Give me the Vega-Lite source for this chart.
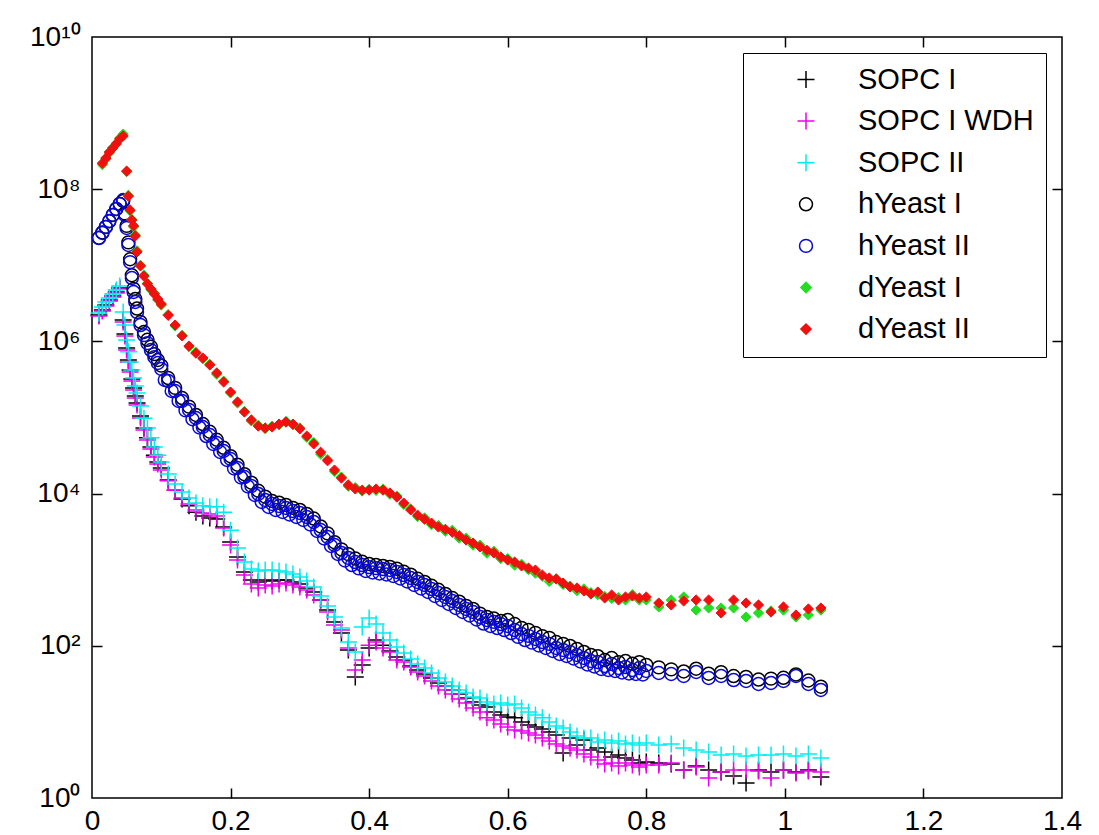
{
"$schema": "https://vega.github.io/schema/vega-lite/v6.json",
"width": 970, "height": 761,
"autosize": {"type": "none"},
"padding": {"left": 92, "top": 37, "right": 37, "bottom": 37},
"background": "#ffffff",
"config": {"view": {"stroke": "#000", "strokeWidth": 1.5}, "font": "Liberation Sans"},
"datasets": {
"sopc1": [{"x":0.01,"y":2.22e6},{"x":0.015,"y":2.59e6},{"x":0.02,"y":3.01e6},{"x":0.025,"y":3.5e6},{"x":0.03,"y":3.95e6},{"x":0.035,"y":4.46e6},{"x":0.04,"y":5.04e6},{"x":0.045,"y":1.91e6},{"x":0.0475,"y":1.25e6},{"x":0.05,"y":8.2e5},{"x":0.0525,"y":5.7e5},{"x":0.055,"y":4.21e5},{"x":0.0575,"y":3.21e5},{"x":0.06,"y":2.44e5},{"x":0.0625,"y":1.92e5},{"x":0.065,"y":1.55e5},{"x":0.07,"y":1.05e5},{"x":0.075,"y":7.3e4},{"x":0.08,"y":5.4e4},{"x":0.085,"y":4.1e4},{"x":0.09,"y":3.2e4},{"x":0.095,"y":2.6e4},{"x":0.1,"y":2.17e4},{"x":0.11,"y":1.51e4},{"x":0.12,"y":1.11e4},{"x":0.13,"y":8500},{"x":0.14,"y":6900},{"x":0.15,"y":5700},{"x":0.16,"y":5080},{"x":0.17,"y":4780},{"x":0.18,"y":4630},{"x":0.19,"y":3640},{"x":0.2,"y":2310},{"x":0.21,"y":1470},{"x":0.22,"y":933},{"x":0.23,"y":733},{"x":0.24,"y":689},{"x":0.25,"y":733},{"x":0.26,"y":711},{"x":0.27,"y":733},{"x":0.28,"y":733},{"x":0.29,"y":689},{"x":0.3,"y":649},{"x":0.31,"y":575},{"x":0.32,"y":509},{"x":0.33,"y":400},{"x":0.34,"y":295},{"x":0.35,"y":206},{"x":0.36,"y":147},{"x":0.37,"y":88.1},{"x":0.38,"y":38.9},{"x":0.39,"y":56},{"x":0.4,"y":93.5},{"x":0.41,"y":119},{"x":0.42,"y":102},{"x":0.43,"y":85.5},{"x":0.44,"y":71.3},{"x":0.45,"y":65},{"x":0.46,"y":54.3},{"x":0.47,"y":48.1},{"x":0.48,"y":42.6},{"x":0.49,"y":37.8},{"x":0.5,"y":32.5},{"x":0.51,"y":29.6},{"x":0.52,"y":26.3},{"x":0.53,"y":23.3},{"x":0.54,"y":20.6},{"x":0.55,"y":18.3},{"x":0.56,"y":16.7},{"x":0.57,"y":15.7},{"x":0.58,"y":13.5},{"x":0.59,"y":12.3},{"x":0.6,"y":11.6},{"x":0.61,"y":11.3},{"x":0.62,"y":9.97},{"x":0.63,"y":9.1},{"x":0.64,"y":8.57},{"x":0.65,"y":8.07},{"x":0.66,"y":7.37},{"x":0.67,"y":6.73},{"x":0.68,"y":3.9},{"x":0.69,"y":6.14},{"x":0.7,"y":4.97},{"x":0.71,"y":5.78},{"x":0.72,"y":4.27},{"x":0.73,"y":4.54},{"x":0.74,"y":4.02},{"x":0.75,"y":3.46},{"x":0.76,"y":3.67},{"x":0.77,"y":3.36},{"x":0.78,"y":3.16},{"x":0.79,"y":2.88},{"x":0.8,"y":2.97},{"x":0.818,"y":2.88},{"x":0.836,"y":2.8},{"x":0.854,"y":2.33},{"x":0.872,"y":2.63},{"x":0.89,"y":2.33},{"x":0.908,"y":2.2},{"x":0.926,"y":1.95},{"x":0.944,"y":1.57},{"x":0.962,"y":2.33},{"x":0.98,"y":2.2},{"x":0.998,"y":2.33},{"x":1.016,"y":2.2},{"x":1.034,"y":2.33},{"x":1.052,"y":1.89}],
"sopc1w": [{"x":0.01,"y":2.16e6},{"x":0.015,"y":2.51e6},{"x":0.02,"y":2.92e6},{"x":0.025,"y":3.4e6},{"x":0.03,"y":3.84e6},{"x":0.035,"y":4.33e6},{"x":0.04,"y":4.89e6},{"x":0.045,"y":1.8e6},{"x":0.0475,"y":1.18e6},{"x":0.05,"y":7.7e5},{"x":0.0525,"y":5.36e5},{"x":0.055,"y":3.96e5},{"x":0.0575,"y":3.02e5},{"x":0.06,"y":2.3e5},{"x":0.0625,"y":1.8e5},{"x":0.065,"y":1.46e5},{"x":0.07,"y":9.85e4},{"x":0.075,"y":6.85e4},{"x":0.08,"y":5.06e4},{"x":0.085,"y":3.85e4},{"x":0.09,"y":3.03e4},{"x":0.095,"y":2.45e4},{"x":0.1,"y":2.04e4},{"x":0.11,"y":1.47e4},{"x":0.12,"y":1.11e4},{"x":0.13,"y":8750},{"x":0.14,"y":7300},{"x":0.15,"y":6100},{"x":0.16,"y":5560},{"x":0.17,"y":5400},{"x":0.18,"y":5080},{"x":0.19,"y":3530},{"x":0.2,"y":2110},{"x":0.21,"y":1340},{"x":0.22,"y":851},{"x":0.23,"y":649},{"x":0.24,"y":575},{"x":0.25,"y":629},{"x":0.26,"y":611},{"x":0.27,"y":649},{"x":0.28,"y":668},{"x":0.29,"y":629},{"x":0.3,"y":593},{"x":0.31,"y":541},{"x":0.32,"y":465},{"x":0.33,"y":400},{"x":0.34,"y":278},{"x":0.35,"y":188},{"x":0.36,"y":161},{"x":0.37,"y":93.5},{"x":0.38,"y":48},{"x":0.39,"y":65},{"x":0.4,"y":102},{"x":0.41,"y":112},{"x":0.42,"y":93.5},{"x":0.43,"y":83},{"x":0.44,"y":65},{"x":0.45,"y":61.2},{"x":0.46,"y":52.6},{"x":0.47,"y":45.3},{"x":0.48,"y":40.1},{"x":0.49,"y":34.5},{"x":0.5,"y":29.6},{"x":0.51,"y":26.3},{"x":0.52,"y":23.3},{"x":0.53,"y":20},{"x":0.54,"y":17.7},{"x":0.55,"y":15.2},{"x":0.56,"y":13.5},{"x":0.57,"y":11.3},{"x":0.58,"y":10.6},{"x":0.59,"y":9.38},{"x":0.6,"y":8.57},{"x":0.61,"y":7.83},{"x":0.62,"y":7.59},{"x":0.63,"y":7.15},{"x":0.64,"y":6.73},{"x":0.65,"y":6.14},{"x":0.66,"y":5.61},{"x":0.67,"y":5.13},{"x":0.68,"y":4.82},{"x":0.69,"y":4.54},{"x":0.7,"y":4.27},{"x":0.71,"y":3.79},{"x":0.72,"y":3.46},{"x":0.73,"y":3.16},{"x":0.74,"y":2.8},{"x":0.75,"y":2.88},{"x":0.76,"y":2.63},{"x":0.77,"y":2.88},{"x":0.78,"y":2.71},{"x":0.79,"y":2.55},{"x":0.8,"y":2.71},{"x":0.818,"y":2.71},{"x":0.836,"y":2.88},{"x":0.854,"y":2.33},{"x":0.872,"y":2.55},{"x":0.89,"y":1.83},{"x":0.908,"y":2.2},{"x":0.926,"y":2.33},{"x":0.944,"y":2.33},{"x":0.962,"y":2.26},{"x":0.98,"y":1.83},{"x":0.998,"y":2.33},{"x":1.016,"y":2.13},{"x":1.034,"y":2.26},{"x":1.052,"y":2.2}],
"sopc2": [{"x":0.01,"y":2.36e6},{"x":0.015,"y":2.83e6},{"x":0.02,"y":3.3e6},{"x":0.025,"y":3.72e6},{"x":0.03,"y":4.2e6},{"x":0.035,"y":4.74e6},{"x":0.04,"y":5.35e6},{"x":0.045,"y":2.44e6},{"x":0.0475,"y":1.64e6},{"x":0.05,"y":1.04e6},{"x":0.0525,"y":7.3e5},{"x":0.055,"y":5.36e5},{"x":0.0575,"y":4.2e5},{"x":0.06,"y":3.3e5},{"x":0.0625,"y":2.59e5},{"x":0.065,"y":2.1e5},{"x":0.07,"y":1.42e5},{"x":0.075,"y":9.8e4},{"x":0.08,"y":7.3e4},{"x":0.085,"y":5.4e4},{"x":0.09,"y":4.1e4},{"x":0.095,"y":3.2e4},{"x":0.1,"y":2.6e4},{"x":0.11,"y":1.81e4},{"x":0.12,"y":1.34e4},{"x":0.13,"y":1.05e4},{"x":0.14,"y":8750},{"x":0.15,"y":7500},{"x":0.16,"y":6900},{"x":0.17,"y":6700},{"x":0.18,"y":6700},{"x":0.19,"y":5700},{"x":0.2,"y":3300},{"x":0.21,"y":1930},{"x":0.22,"y":1260},{"x":0.23,"y":1020},{"x":0.24,"y":962},{"x":0.25,"y":991},{"x":0.26,"y":991},{"x":0.27,"y":962},{"x":0.28,"y":933},{"x":0.29,"y":879},{"x":0.3,"y":802},{"x":0.31,"y":711},{"x":0.32,"y":593},{"x":0.33,"y":451},{"x":0.34,"y":333},{"x":0.35,"y":239},{"x":0.36,"y":171},{"x":0.37,"y":112},{"x":0.38,"y":83},{"x":0.39,"y":177},{"x":0.4,"y":232},{"x":0.41,"y":193},{"x":0.42,"y":147},{"x":0.43,"y":119},{"x":0.44,"y":96.4},{"x":0.45,"y":80.4},{"x":0.46,"y":67.1},{"x":0.47,"y":57.7},{"x":0.48,"y":51.1},{"x":0.49,"y":43.9},{"x":0.5,"y":37.8},{"x":0.51,"y":33.4},{"x":0.52,"y":29.6},{"x":0.53,"y":26.3},{"x":0.54,"y":24},{"x":0.55,"y":21.2},{"x":0.56,"y":20.6},{"x":0.57,"y":18.3},{"x":0.58,"y":17.2},{"x":0.59,"y":17.7},{"x":0.6,"y":16.7},{"x":0.61,"y":17.2},{"x":0.62,"y":15.2},{"x":0.63,"y":13.5},{"x":0.64,"y":12.3},{"x":0.65,"y":11.3},{"x":0.66,"y":9.97},{"x":0.67,"y":8.84},{"x":0.68,"y":8.32},{"x":0.69,"y":7.37},{"x":0.7,"y":6.53},{"x":0.71,"y":6.14},{"x":0.72,"y":6.14},{"x":0.73,"y":5.44},{"x":0.74,"y":5.78},{"x":0.75,"y":5.28},{"x":0.76,"y":5.61},{"x":0.77,"y":5.13},{"x":0.78,"y":5.28},{"x":0.79,"y":4.97},{"x":0.8,"y":5.28},{"x":0.818,"y":4.97},{"x":0.836,"y":5.13},{"x":0.854,"y":4.54},{"x":0.872,"y":4.27},{"x":0.89,"y":4.02},{"x":0.908,"y":3.67},{"x":0.926,"y":3.79},{"x":0.944,"y":3.56},{"x":0.962,"y":3.67},{"x":0.98,"y":3.67},{"x":0.998,"y":3.79},{"x":1.016,"y":3.56},{"x":1.034,"y":3.79},{"x":1.052,"y":3.36}],
"hy1": [{"x":0.01,"y":2.3e7},{"x":0.015,"y":2.7e7},{"x":0.02,"y":3.2e7},{"x":0.025,"y":3.8e7},{"x":0.03,"y":4.6e7},{"x":0.035,"y":5.5e7},{"x":0.04,"y":6.4e7},{"x":0.045,"y":7.0e7},{"x":0.0475,"y":4.8e7},{"x":0.05,"y":3.3e7},{"x":0.0525,"y":2.0e7},{"x":0.055,"y":1.2e7},{"x":0.0575,"y":7.4e6},{"x":0.06,"y":4.9e6},{"x":0.0625,"y":3.6e6},{"x":0.065,"y":2.7e6},{"x":0.07,"y":1.8e6},{"x":0.075,"y":1.33e6},{"x":0.08,"y":1.05e6},{"x":0.085,"y":8.5e5},{"x":0.09,"y":6.8e5},{"x":0.095,"y":5.7e5},{"x":0.1,"y":4.8e5},{"x":0.11,"y":3.3e5},{"x":0.12,"y":2.45e5},{"x":0.13,"y":1.8e5},{"x":0.14,"y":1.39e5},{"x":0.15,"y":1.08e5},{"x":0.16,"y":8.2e4},{"x":0.17,"y":6.5e4},{"x":0.18,"y":5.1e4},{"x":0.19,"y":4.0e4},{"x":0.2,"y":3.1e4},{"x":0.21,"y":2.4e4},{"x":0.22,"y":1.8e4},{"x":0.23,"y":1.39e4},{"x":0.24,"y":1.09e4},{"x":0.25,"y":9100},{"x":0.26,"y":8000},{"x":0.27,"y":7600},{"x":0.28,"y":7100},{"x":0.29,"y":6500},{"x":0.3,"y":6100},{"x":0.31,"y":5400},{"x":0.32,"y":4700},{"x":0.33,"y":3700},{"x":0.34,"y":3000},{"x":0.35,"y":2300},{"x":0.36,"y":1850},{"x":0.37,"y":1600},{"x":0.38,"y":1400},{"x":0.39,"y":1270},{"x":0.4,"y":1190},{"x":0.41,"y":1150},{"x":0.42,"y":1120},{"x":0.43,"y":1090},{"x":0.44,"y":1030},{"x":0.45,"y":940},{"x":0.46,"y":860},{"x":0.47,"y":760},{"x":0.48,"y":690},{"x":0.49,"y":615},{"x":0.5,"y":545},{"x":0.51,"y":480},{"x":0.52,"y":425},{"x":0.53,"y":380},{"x":0.54,"y":335},{"x":0.55,"y":305},{"x":0.56,"y":265},{"x":0.57,"y":240},{"x":0.58,"y":228},{"x":0.59,"y":212},{"x":0.6,"y":218},{"x":0.61,"y":193},{"x":0.62,"y":172},{"x":0.63,"y":162},{"x":0.64,"y":148},{"x":0.65,"y":134},{"x":0.66,"y":127},{"x":0.67,"y":112},{"x":0.68,"y":106},{"x":0.69,"y":99.5},{"x":0.7,"y":91},{"x":0.71,"y":83},{"x":0.72,"y":76},{"x":0.73,"y":73},{"x":0.74,"y":65},{"x":0.75,"y":69},{"x":0.76,"y":61},{"x":0.77,"y":63},{"x":0.78,"y":58},{"x":0.79,"y":61},{"x":0.8,"y":56},{"x":0.818,"y":52},{"x":0.836,"y":49},{"x":0.854,"y":46},{"x":0.872,"y":50},{"x":0.89,"y":43},{"x":0.908,"y":45},{"x":0.926,"y":40},{"x":0.944,"y":39},{"x":0.962,"y":36},{"x":0.98,"y":37},{"x":0.998,"y":38},{"x":1.016,"y":42},{"x":1.034,"y":35},{"x":1.052,"y":29}],
"hy2": [{"x":0.01,"y":2.28e7},{"x":0.015,"y":2.66e7},{"x":0.02,"y":3.19e7},{"x":0.025,"y":3.82e7},{"x":0.03,"y":4.58e7},{"x":0.035,"y":5.49e7},{"x":0.04,"y":6.39e7},{"x":0.045,"y":7.21e7},{"x":0.0475,"y":4.58e7},{"x":0.05,"y":3.09e7},{"x":0.0525,"y":1.85e7},{"x":0.055,"y":1.1e7},{"x":0.0575,"y":6.8e6},{"x":0.06,"y":4.46e6},{"x":0.0625,"y":3.3e6},{"x":0.065,"y":2.43e6},{"x":0.07,"y":1.64e6},{"x":0.075,"y":1.21e6},{"x":0.08,"y":9.5e5},{"x":0.085,"y":7.7e5},{"x":0.09,"y":6.2e5},{"x":0.095,"y":5.2e5},{"x":0.1,"y":4.34e5},{"x":0.105,"y":3.11e5},{"x":0.11,"y":3.02e5},{"x":0.115,"y":2.23e5},{"x":0.12,"y":2.23e5},{"x":0.125,"y":1.65e5},{"x":0.13,"y":1.65e5},{"x":0.135,"y":1.24e5},{"x":0.14,"y":1.26e5},{"x":0.145,"y":9.5e4},{"x":0.15,"y":9.85e4},{"x":0.155,"y":7.4e4},{"x":0.16,"y":7.5e4},{"x":0.165,"y":5.7e4},{"x":0.17,"y":5.89e4},{"x":0.175,"y":4.49e4},{"x":0.18,"y":4.62e4},{"x":0.185,"y":3.52e4},{"x":0.19,"y":3.63e4},{"x":0.195,"y":2.77e4},{"x":0.2,"y":2.85e4},{"x":0.205,"y":2.14e4},{"x":0.21,"y":2.17e4},{"x":0.215,"y":1.63e4},{"x":0.22,"y":1.65e4},{"x":0.225,"y":1.24e4},{"x":0.23,"y":1.26e4},{"x":0.235,"y":9600},{"x":0.24,"y":9900},{"x":0.245,"y":7760},{"x":0.25,"y":8240},{"x":0.255,"y":6670},{"x":0.26,"y":7300},{"x":0.265,"y":6090},{"x":0.27,"y":6870},{"x":0.275,"y":5730},{"x":0.28,"y":6470},{"x":0.285,"y":5310},{"x":0.29,"y":5900},{"x":0.295,"y":4930},{"x":0.3,"y":5560},{"x":0.305,"y":4500},{"x":0.31,"y":4930},{"x":0.315,"y":3930},{"x":0.32,"y":4240},{"x":0.325,"y":3230},{"x":0.33,"y":3320},{"x":0.335,"y":2570},{"x":0.34,"y":2690},{"x":0.345,"y":2050},{"x":0.35,"y":2110},{"x":0.355,"y":1610},{"x":0.36,"y":1660},{"x":0.365,"y":1320},{"x":0.37,"y":1430},{"x":0.375,"y":1150},{"x":0.38,"y":1260},{"x":0.385,"y":1040},{"x":0.39,"y":1150},{"x":0.395,"y":962},{"x":0.4,"y":1080},{"x":0.405,"y":919},{"x":0.41,"y":1050},{"x":0.415,"y":891},{"x":0.42,"y":1020},{"x":0.425,"y":865},{"x":0.43,"y":991},{"x":0.435,"y":826},{"x":0.44,"y":933},{"x":0.445,"y":766},{"x":0.45,"y":851},{"x":0.455,"y":700},{"x":0.46,"y":778},{"x":0.465,"y":629},{"x":0.47,"y":689},{"x":0.475,"y":566},{"x":0.48,"y":629},{"x":0.485,"y":509},{"x":0.49,"y":557},{"x":0.495,"y":451},{"x":0.5,"y":494},{"x":0.505,"y":400},{"x":0.51,"y":438},{"x":0.515,"y":354},{"x":0.52,"y":388},{"x":0.525,"y":314},{"x":0.53,"y":344},{"x":0.535,"y":278},{"x":0.54,"y":305},{"x":0.545,"y":250},{"x":0.55,"y":278},{"x":0.555,"y":222},{"x":0.56,"y":239},{"x":0.565,"y":196},{"x":0.57,"y":218},{"x":0.575,"y":182},{"x":0.58,"y":206},{"x":0.585,"y":171},{"x":0.59,"y":193},{"x":0.595,"y":161},{"x":0.6,"y":182},{"x":0.605,"y":147},{"x":0.61,"y":161},{"x":0.615,"y":131},{"x":0.62,"y":143},{"x":0.625,"y":119},{"x":0.63,"y":135},{"x":0.635,"y":110},{"x":0.64,"y":123},{"x":0.645,"y":101},{"x":0.65,"y":112},{"x":0.655,"y":93.5},{"x":0.66,"y":106},{"x":0.665,"y":85.5},{"x":0.67,"y":93.5},{"x":0.675,"y":78},{"x":0.68,"y":88.1},{"x":0.685,"y":73.5},{"x":0.69,"y":82.9},{"x":0.695,"y":68.1},{"x":0.7,"y":75.7},{"x":0.705,"y":62.2},{"x":0.71,"y":69.2},{"x":0.715,"y":56.8},{"x":0.72,"y":63.1},{"x":0.725,"y":53.5},{"x":0.73,"y":61.2},{"x":0.735,"y":49.6},{"x":0.74,"y":54.3},{"x":0.745,"y":48.1},{"x":0.75,"y":57.7},{"x":0.755,"y":46.7},{"x":0.76,"y":51.1},{"x":0.765,"y":44.6},{"x":0.77,"y":52.6},{"x":0.775,"y":43.3},{"x":0.78,"y":48.1},{"x":0.785,"y":42.6},{"x":0.79,"y":51.1},{"x":0.795,"y":42},{"x":0.8,"y":46.7},{"x":0.818,"y":43.9},{"x":0.836,"y":42.6},{"x":0.854,"y":40.1},{"x":0.872,"y":45.3},{"x":0.89,"y":37.8},{"x":0.908,"y":40.1},{"x":0.926,"y":35.5},{"x":0.944,"y":34.5},{"x":0.962,"y":31.5},{"x":0.98,"y":32.5},{"x":0.998,"y":34.5},{"x":1.016,"y":40.1},{"x":1.034,"y":31.5},{"x":1.052,"y":26.3}],
"dy1": [{"x":0.015,"y":2.1e8},{"x":0.02,"y":2.5e8},{"x":0.025,"y":3.0e8},{"x":0.03,"y":3.5e8},{"x":0.035,"y":4.0e8},{"x":0.04,"y":4.7e8},{"x":0.045,"y":5.3e8},{"x":0.05,"y":1.7e8},{"x":0.0525,"y":8.3e7},{"x":0.055,"y":5.2e7},{"x":0.0575,"y":4.0e7},{"x":0.06,"y":3.2e7},{"x":0.0625,"y":2.5e7},{"x":0.065,"y":1.55e7},{"x":0.07,"y":1.0e7},{"x":0.075,"y":7.4e6},{"x":0.08,"y":5.8e6},{"x":0.085,"y":4.8e6},{"x":0.09,"y":4.3e6},{"x":0.095,"y":3.5e6},{"x":0.1,"y":3.0e6},{"x":0.11,"y":2.25e6},{"x":0.12,"y":1.6e6},{"x":0.13,"y":1.2e6},{"x":0.14,"y":8.5e5},{"x":0.15,"y":7.2e5},{"x":0.16,"y":5.9e5},{"x":0.17,"y":5.0e5},{"x":0.18,"y":3.7e5},{"x":0.19,"y":3.0e5},{"x":0.2,"y":2.1e5},{"x":0.21,"y":1.55e5},{"x":0.22,"y":1.2e5},{"x":0.23,"y":9.0e4},{"x":0.24,"y":7.9e4},{"x":0.25,"y":7.1e4},{"x":0.26,"y":7.7e4},{"x":0.27,"y":8.0e4},{"x":0.28,"y":8.9e4},{"x":0.29,"y":8.0e4},{"x":0.3,"y":7.3e4},{"x":0.31,"y":5.5e4},{"x":0.32,"y":4.7e4},{"x":0.33,"y":3.3e4},{"x":0.34,"y":2.8e4},{"x":0.35,"y":1.95e4},{"x":0.36,"y":1.65e4},{"x":0.37,"y":1.25e4},{"x":0.38,"y":1.2e4},{"x":0.39,"y":1.08e4},{"x":0.4,"y":1.14e4},{"x":0.41,"y":1.1e4},{"x":0.42,"y":1.15e4},{"x":0.43,"y":9800},{"x":0.44,"y":9300},{"x":0.45,"y":7200},{"x":0.46,"y":6300},{"x":0.47,"y":5000},{"x":0.48,"y":4800},{"x":0.49,"y":3900},{"x":0.5,"y":3800},{"x":0.51,"y":3200},{"x":0.52,"y":3300},{"x":0.53,"y":2600},{"x":0.54,"y":2600},{"x":0.55,"y":2100},{"x":0.56,"y":2100},{"x":0.57,"y":1650},{"x":0.58,"y":1750},{"x":0.59,"y":1400},{"x":0.6,"y":1400},{"x":0.61,"y":1150},{"x":0.62,"y":1180},{"x":0.63,"y":1000},{"x":0.64,"y":900},{"x":0.65,"y":820},{"x":0.66,"y":700},{"x":0.67,"y":760},{"x":0.68,"y":640},{"x":0.69,"y":610},{"x":0.7,"y":530},{"x":0.71,"y":560},{"x":0.72,"y":500},{"x":0.73,"y":470},{"x":0.74,"y":445},{"x":0.75,"y":420},{"x":0.76,"y":430},{"x":0.77,"y":400},{"x":0.78,"y":470},{"x":0.79,"y":400},{"x":0.8,"y":400},{"x":0.818,"y":324},{"x":0.836,"y":400},{"x":0.854,"y":438},{"x":0.872,"y":295},{"x":0.89,"y":314},{"x":0.908,"y":314},{"x":0.926,"y":314},{"x":0.944,"y":239},{"x":0.962,"y":270},{"x":0.98,"y":287},{"x":0.998,"y":295},{"x":1.016,"y":239},{"x":1.034,"y":254},{"x":1.052,"y":295}],
"dy2": [{"x":0.015,"y":2.2e8},{"x":0.02,"y":2.57e8},{"x":0.025,"y":3.08e8},{"x":0.03,"y":3.48e8},{"x":0.035,"y":3.93e8},{"x":0.04,"y":4.57e8},{"x":0.045,"y":5.0e8},{"x":0.05,"y":1.73e8},{"x":0.0525,"y":8.1e7},{"x":0.055,"y":5.33e7},{"x":0.0575,"y":3.94e7},{"x":0.06,"y":3.3e7},{"x":0.0625,"y":2.43e7},{"x":0.065,"y":1.5e7},{"x":0.07,"y":9.8e6},{"x":0.075,"y":7.2e6},{"x":0.08,"y":5.7e6},{"x":0.085,"y":4.9e6},{"x":0.09,"y":4.2e6},{"x":0.095,"y":3.6e6},{"x":0.1,"y":3.1e6},{"x":0.11,"y":2.2e6},{"x":0.12,"y":1.64e6},{"x":0.13,"y":1.18e6},{"x":0.14,"y":8.7e5},{"x":0.15,"y":7.0e5},{"x":0.16,"y":6.05e5},{"x":0.17,"y":4.9e5},{"x":0.18,"y":3.85e5},{"x":0.19,"y":2.93e5},{"x":0.2,"y":2.16e5},{"x":0.21,"y":1.6e5},{"x":0.22,"y":1.18e5},{"x":0.23,"y":9.3e4},{"x":0.24,"y":7.7e4},{"x":0.25,"y":7.3e4},{"x":0.26,"y":7.5e4},{"x":0.27,"y":8.2e4},{"x":0.28,"y":8.7e4},{"x":0.29,"y":8.2e4},{"x":0.3,"y":7.1e4},{"x":0.31,"y":5.7e4},{"x":0.32,"y":4.5e4},{"x":0.33,"y":3.5e4},{"x":0.34,"y":2.7e4},{"x":0.35,"y":2.04e4},{"x":0.36,"y":1.6e4},{"x":0.37,"y":1.3e4},{"x":0.38,"y":1.15e4},{"x":0.39,"y":1.11e4},{"x":0.4,"y":1.11e4},{"x":0.41,"y":1.15e4},{"x":0.42,"y":1.11e4},{"x":0.43,"y":1.02e4},{"x":0.44,"y":9000},{"x":0.45,"y":7500},{"x":0.46,"y":6100},{"x":0.47,"y":5200},{"x":0.48,"y":4600},{"x":0.49,"y":4100},{"x":0.5,"y":3640},{"x":0.51,"y":3400},{"x":0.52,"y":3100},{"x":0.53,"y":2800},{"x":0.54,"y":2450},{"x":0.55,"y":2240},{"x":0.56,"y":1990},{"x":0.57,"y":1800},{"x":0.58,"y":1660},{"x":0.59,"y":1470},{"x":0.6,"y":1340},{"x":0.61,"y":1260},{"x":0.62,"y":1120},{"x":0.63,"y":1050},{"x":0.64,"y":990},{"x":0.65,"y":852},{"x":0.66,"y":778},{"x":0.67,"y":755},{"x":0.68,"y":668},{"x":0.69,"y":593},{"x":0.7,"y":575},{"x":0.71,"y":525},{"x":0.72,"y":480},{"x":0.73,"y":509},{"x":0.74,"y":425},{"x":0.75,"y":465},{"x":0.76,"y":400},{"x":0.77,"y":438},{"x":0.78,"y":451},{"x":0.79,"y":425},{"x":0.8,"y":438},{"x":0.818,"y":365},{"x":0.836,"y":344},{"x":0.854,"y":388},{"x":0.872,"y":400},{"x":0.89,"y":400},{"x":0.908,"y":270},{"x":0.926,"y":400},{"x":0.944,"y":365},{"x":0.962,"y":344},{"x":0.98,"y":278},{"x":0.998,"y":324},{"x":1.016,"y":254},{"x":1.034,"y":305},{"x":1.052,"y":314}]
},
"resolve": {"axis": {"x": "independent", "y": "independent"}},
"layer": [
{"data": {"name": "sopc1"},
 "mark": {"type": "point", "size": 289, "strokeWidth": 1.5, "opacity": 1},
 "encoding": {
  "x": {"field": "x", "type": "quantitative", "scale": {"domain": [0, 1.4], "nice": false, "zero": false},
        "axis": {"orient": "bottom", "values": [0, 0.2, 0.4, 0.6, 0.8, 1, 1.2, 1.4], "format": "~g", "ticks": false, "domain": false, "grid": false, "title": null, "labelFontSize": 28, "labelFont": "Liberation Sans", "labelColor": "#000", "labelPadding": 9, "labelFlush": false, "labelOverlap": false, "labelBound": false}},
  "y": {"field": "y", "type": "quantitative", "scale": {"type": "log", "domain": [1, 10000000000], "nice": false},
        "axis": {"orient": "left", "values": [1, 100, 10000, 1000000, 100000000, 10000000000], "labelExpr": "datum.value < 10 ? '10⁰' : datum.value < 1000 ? '10²' : datum.value < 100000 ? '10⁴' : datum.value < 10000000 ? '10⁶' : datum.value < 1000000000 ? '10⁸' : '10¹⁰'", "ticks": false, "domain": false, "grid": false, "title": null, "labelFontSize": 28, "labelFont": "Liberation Sans", "labelColor": "#000", "labelPadding": 12, "labelFlush": false, "labelOverlap": false, "labelBound": false}},
  "stroke": {"datum": "SOPC I", "type": "nominal",
    "scale": {"domain": ["SOPC I", "SOPC I WDH", "SOPC II", "hYeast I", "hYeast II", "dYeast I", "dYeast II"], "range": ["#000000", "#ee00ee", "#00eeee", "#000000", "#0808d8", "#22dd22", "#f01010"]},
    "legend": {"title": null, "orient": "none", "legendX": 651, "legendY": 16, "padding": 12, "strokeColor": "#000", "fillColor": "#ffffff", "labelFontSize": 29, "labelFont": "Liberation Sans", "labelColor": "#000", "labelLimit": 400, "rowPadding": 11.6, "symbolSize": 289, "symbolStrokeWidth": 1.5, "symbolOffset": 36.5, "labelOffset": 37.5, "symbolOpacity": 1}},
  "fill": {"datum": "SOPC I", "type": "nominal",
    "scale": {"domain": ["SOPC I", "SOPC I WDH", "SOPC II", "hYeast I", "hYeast II", "dYeast I", "dYeast II"], "range": ["transparent", "transparent", "transparent", "transparent", "transparent", "#22dd22", "#f01010"]}},
  "shape": {"datum": "SOPC I", "type": "nominal",
    "scale": {"domain": ["SOPC I", "SOPC I WDH", "SOPC II", "hYeast I", "hYeast II", "dYeast I", "dYeast II"], "range": ["M-1,0H1M0,-1V1", "M-1,0H1M0,-1V1", "M-1,0H1M0,-1V1", "M0.76,0A0.76,0.76,0,1,1,-0.76,0A0.76,0.76,0,1,1,0.76,0Z", "M0.76,0A0.76,0.76,0,1,1,-0.76,0A0.76,0.76,0,1,1,0.76,0Z", "M-0.6,0L0,-0.6L0.6,0L0,0.6Z", "M-0.6,0L0,-0.6L0.6,0L0,0.6Z"]}}
 }},
{"data": {"name": "sopc1w"},
 "mark": {"type": "point", "size": 289, "strokeWidth": 1.5, "opacity": 1},
 "encoding": {"x": {"field": "x", "type": "quantitative", "axis": null}, "y": {"field": "y", "type": "quantitative", "axis": null},
  "stroke": {"datum": "SOPC I WDH", "type": "nominal"}, "fill": {"datum": "SOPC I WDH", "type": "nominal"}, "shape": {"datum": "SOPC I WDH", "type": "nominal"}}},
{"data": {"name": "sopc2"},
 "mark": {"type": "point", "size": 289, "strokeWidth": 1.5, "opacity": 1},
 "encoding": {"x": {"field": "x", "type": "quantitative", "axis": null}, "y": {"field": "y", "type": "quantitative", "axis": null},
  "stroke": {"datum": "SOPC II", "type": "nominal"}, "fill": {"datum": "SOPC II", "type": "nominal"}, "shape": {"datum": "SOPC II", "type": "nominal"}}},
{"data": {"name": "hy1"},
 "mark": {"type": "point", "size": 289, "strokeWidth": 1.5, "opacity": 1},
 "encoding": {"x": {"field": "x", "type": "quantitative", "axis": null}, "y": {"field": "y", "type": "quantitative", "axis": null},
  "stroke": {"datum": "hYeast I", "type": "nominal"}, "fill": {"datum": "hYeast I", "type": "nominal"}, "shape": {"datum": "hYeast I", "type": "nominal"}}},
{"data": {"name": "hy2"},
 "mark": {"type": "point", "size": 289, "strokeWidth": 1.5, "opacity": 1},
 "encoding": {"x": {"field": "x", "type": "quantitative", "axis": null}, "y": {"field": "y", "type": "quantitative", "axis": null},
  "stroke": {"datum": "hYeast II", "type": "nominal"}, "fill": {"datum": "hYeast II", "type": "nominal"}, "shape": {"datum": "hYeast II", "type": "nominal"}}},
{"data": {"name": "dy1"},
 "mark": {"type": "point", "size": 289, "strokeWidth": 1, "opacity": 1},
 "encoding": {"x": {"field": "x", "type": "quantitative", "axis": null}, "y": {"field": "y", "type": "quantitative", "axis": null},
  "stroke": {"datum": "dYeast I", "type": "nominal"}, "fill": {"datum": "dYeast I", "type": "nominal"}, "shape": {"datum": "dYeast I", "type": "nominal"}}},
{"data": {"name": "dy2"},
 "mark": {"type": "point", "size": 289, "strokeWidth": 1, "opacity": 1},
 "encoding": {"x": {"field": "x", "type": "quantitative", "axis": null}, "y": {"field": "y", "type": "quantitative", "axis": null},
  "stroke": {"datum": "dYeast II", "type": "nominal"}, "fill": {"datum": "dYeast II", "type": "nominal"}, "shape": {"datum": "dYeast II", "type": "nominal"}}},
{"data": {"values": [{}]},
 "mark": {"type": "point", "opacity": 0, "size": 1},
 "encoding": {
  "x": {"datum": 0.5, "type": "quantitative", "axis": {"orient": "bottom", "offset": -10, "values": [0.2, 0.4, 0.6, 0.8, 1, 1.2], "labels": false, "domain": false, "grid": false, "ticks": true, "tickSize": 10, "tickColor": "#000", "tickWidth": 1.5, "title": null}},
  "y": {"datum": 100, "type": "quantitative", "axis": {"orient": "left", "offset": -10, "values": [100, 10000, 1000000, 100000000], "labels": false, "domain": false, "grid": false, "ticks": true, "tickSize": 10, "tickColor": "#000", "tickWidth": 1.5, "title": null}}}},
{"data": {"values": [{}]},
 "mark": {"type": "point", "opacity": 0, "size": 1},
 "encoding": {
  "x": {"datum": 0.5, "type": "quantitative", "axis": {"orient": "top", "offset": -10, "values": [0.2, 0.4, 0.6, 0.8, 1, 1.2], "labels": false, "domain": false, "grid": false, "ticks": true, "tickSize": 10, "tickColor": "#000", "tickWidth": 1.5, "title": null}},
  "y": {"datum": 100, "type": "quantitative", "axis": {"orient": "right", "offset": -10, "values": [100, 10000, 1000000, 100000000], "labels": false, "domain": false, "grid": false, "ticks": true, "tickSize": 10, "tickColor": "#000", "tickWidth": 1.5, "title": null}}}}
]
}
